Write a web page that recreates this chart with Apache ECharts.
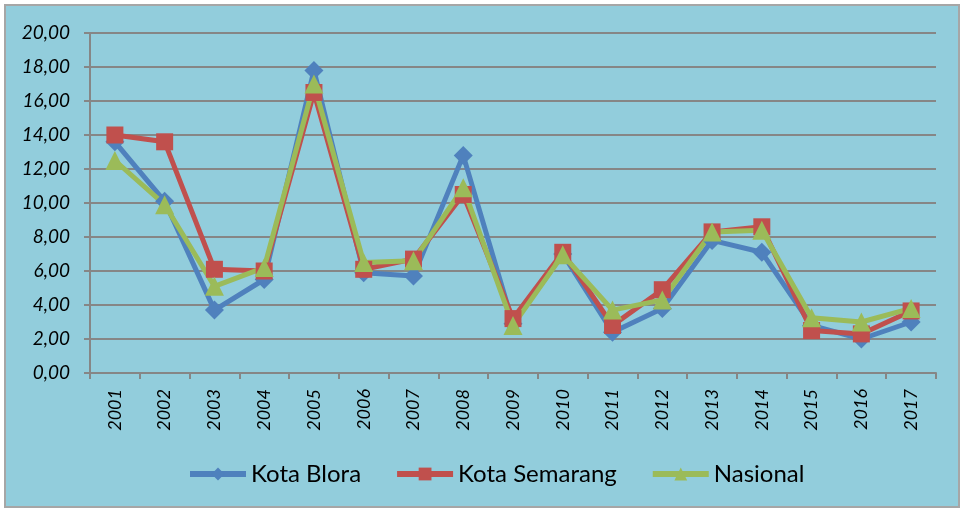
<!DOCTYPE html>
<html><head><meta charset="utf-8">
<script src="https://cdn.jsdelivr.net/npm/echarts@6/dist/echarts.min.js"></script>
<style>
html,body{margin:0;padding:0;background:#fff;}
#bg{position:absolute;left:4px;top:4px;width:952px;height:500px;background:#92CDDC;border:2px solid #A6A6A6;}
#chart{position:absolute;left:0;top:0;width:962px;height:509px;}
</style></head><body>
<div id="bg"></div>
<div id="chart"></div>
<script>
const years = ['2001','2002','2003','2004','2005','2006','2007','2008','2009','2010','2011','2012','2013','2014','2015','2016','2017'];
const kotaBlora =    [13.6, 10.1, 3.7, 5.5, 17.8, 5.9, 5.7, 12.8, 2.9, 7.0, 2.4, 3.8, 7.8, 7.1, 2.8, 2.0, 3.0];
const kotaSemarang = [14.0, 13.6, 6.1, 6.0, 16.5, 6.1, 6.7, 10.5, 3.2, 7.1, 2.8, 4.9, 8.3, 8.6, 2.5, 2.3, 3.65];
const nasional =     [12.5, 9.9, 5.1, 6.2, 17.0, 6.5, 6.6, 10.9, 2.8, 6.95, 3.7, 4.3, 8.3, 8.4, 3.25, 3.0, 3.8];
const yTicks = {min: 0, max: 20, interval: 2};

const colors = ['#4F81BD', '#C0504D', '#9BBB59'];
const font = 'Lato, "Open Sans", sans-serif';
const chart = echarts.init(document.getElementById('chart'), null, {renderer: 'canvas'});
function ser(name, data, symbol, size, color) {
  return {name, type: 'line', data, symbol, symbolSize: size,
    lineStyle: {width: 5, color}, itemStyle: {color}, z: 3};
}
chart.setOption({
  backgroundColor: 'transparent',
  animation: false,
  color: colors,
  grid: {left: 90, right: 26, top: 33, bottom: 136, containLabel: false},
  xAxis: {type: 'category', data: years, boundaryGap: true,
    axisLine: {lineStyle: {color: '#868686', width: 2}},
    axisTick: {show: true, length: 6, lineStyle: {color: '#868686', width: 2}},
    axisLabel: {rotate: 90, fontStyle: 'italic', fontSize: 18, color: '#000', fontFamily: font, margin: 16}},
  yAxis: {type: 'value', min: yTicks.min, max: yTicks.max, interval: yTicks.interval,
    axisLine: {show: true, lineStyle: {color: '#868686', width: 2}},
    axisTick: {show: true, length: 6, lineStyle: {color: '#868686', width: 2}},
    splitLine: {lineStyle: {color: '#868686', width: 2}},
    axisLabel: {fontStyle: 'italic', fontSize: 19, color: '#000', fontFamily: font, margin: 20,
      formatter: v => v.toFixed(2).replace('.', ',')}},
  legend: {top: 457, left: 182, itemWidth: 56, itemHeight: 16, itemGap: 33,
    lineStyle: {width: 6},
    textStyle: {fontSize: 24, color: '#000', fontFamily: font},
    data: ['Kota Blora', 'Kota Semarang', 'Nasional']},
  series: [
    ser('Kota Blora', kotaBlora, 'diamond', 19, colors[0]),
    ser('Kota Semarang', kotaSemarang, 'rect', 17, colors[1]),
    ser('Nasional', nasional, 'triangle', 19, colors[2])
  ]
});
</script></body></html>
